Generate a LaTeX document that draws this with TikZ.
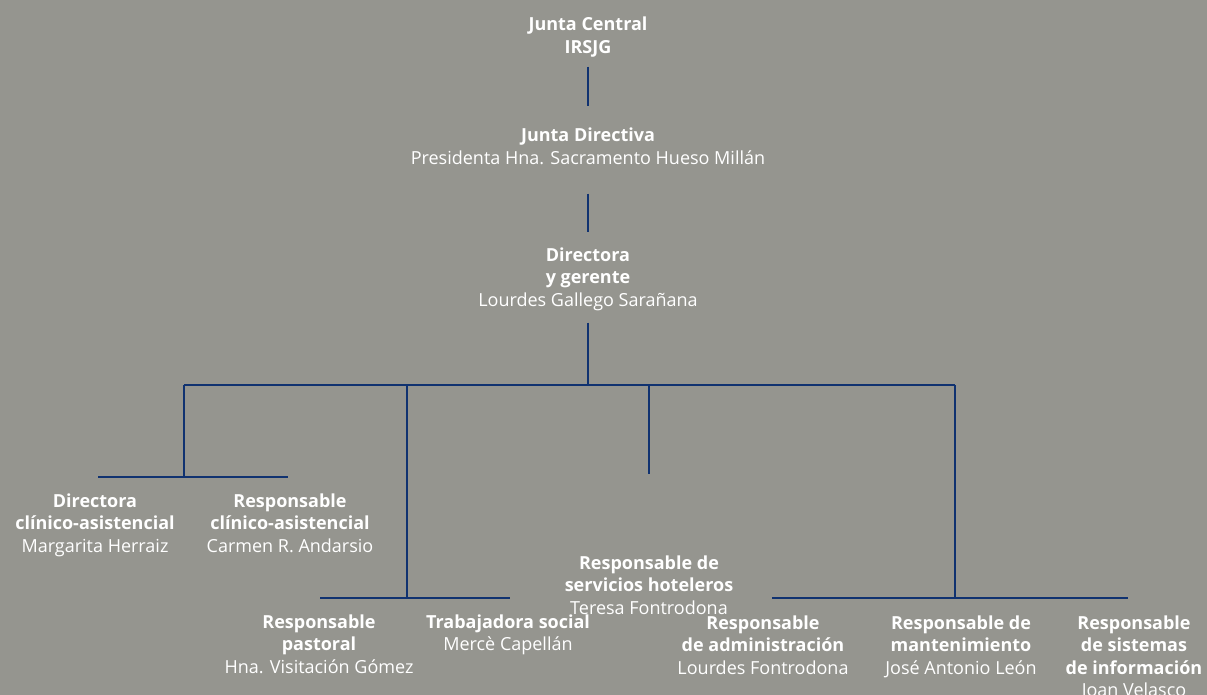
\documentclass[tikz,border=0pt]{standalone}
\usepackage{fontspec}
\setmainfont{Open Sans}
\begin{document}
\definecolor{bgpanel}{RGB}{149,149,143}
\definecolor{orgblue}{RGB}{16,50,112}
\begin{tikzpicture}[x=1pt,y=-1pt,
  lbl/.style={align=center, inner sep=0pt, anchor=north, text=white,
              font=\fontsize{18}{22.5}\selectfont},
  vlink/.style={draw=orgblue, line width=2.1pt},
  hlink/.style={draw=orgblue, line width=2.6pt}]
% panel
\fill[bgpanel] (0,0) rectangle (1207,695);
\useasboundingbox (0,0) rectangle (1207,695);

% board and management
\node[lbl] (jc) at (588,14.8) {\strut\textbf{Junta Central}\\\textbf{IRSJG}\strut};
\node[lbl] (jd) at (588,125.8) {\strut\textbf{Junta Directiva}\\Presidenta Hna. Sacramento Hueso Millán\strut};
\node[lbl] (dg) at (588,245.3) {\strut\textbf{Directora}\\\textbf{y gerente}\\Lourdes Gallego Sarañana\strut};

% second level
\node[lbl] (dca) at (95,491.3) {\strut\textbf{Directora}\\\textbf{clínico-asistencial}\\Margarita Herraiz};
\node[lbl] (rca) at (290,491.3) {\strut\textbf{Responsable}\\\textbf{clínico-asistencial}\\Carmen R. Andarsio};
\node[lbl] (rsh) at (649,553.3) {\strut\textbf{Responsable de}\\\textbf{servicios hoteleros}\\Teresa Fontrodona};
\node[lbl] (rp) at (319,612.3) {\strut\textbf{Responsable}\\\textbf{pastoral}\\Hna. Visitación Gómez};
\node[lbl] (ts) at (508,612.3) {\strut\textbf{Trabajadora social}\\Mercè Capellán};
\node[lbl] (ra) at (763,613.3) {\strut\textbf{Responsable}\\\textbf{de administración}\\Lourdes Fontrodona};
\node[lbl] (rm) at (961,613.3) {\strut\textbf{Responsable de}\\\textbf{mantenimiento}\\José Antonio León};
\node[lbl] (rsi) at (1134,613.3) {\strut\textbf{Responsable}\\\textbf{de sistemas}\\\textbf{de información}\\Joan Velasco};

% junctions
\coordinate (barL) at (184,385);
\coordinate (barM) at (588,385);
\coordinate (barR) at (955,385);
\coordinate (brA) at (407,385);
\coordinate (brB) at (649,385);
\coordinate (clin) at (184,477);
\coordinate (clinL) at (98,477);
\coordinate (clinR) at (288,477);
\coordinate (pas) at (407,598);
\coordinate (pasL) at (320,598);
\coordinate (pasR) at (510,598);
\coordinate (hot) at (649,474);
\coordinate (adm) at (955,598);
\coordinate (admL) at (772,598);
\coordinate (admR) at (1128,598);

% connectors
\draw[vlink] ([yshift=-6.4pt]jc.south) -- ([yshift=20pt]jd.north);
\draw[vlink] ([yshift=-22.4pt]jd.south) -- ([yshift=13.6pt]dg.north);
\draw[vlink] ([yshift=-9.4pt]dg.south) -- (barM);
\draw[hlink] (barL) -- (barR);
\draw[vlink] (barL) -- (clin);
\draw[hlink] (clinL) -- (clinR);
\draw[vlink] (brA) -- (pas);
\draw[hlink] (pasL) -- (pasR);
\draw[vlink] (brB) -- (hot);
\draw[vlink] (barR) -- (adm);
\draw[hlink] (admL) -- (admR);
\end{tikzpicture}
\end{document}
